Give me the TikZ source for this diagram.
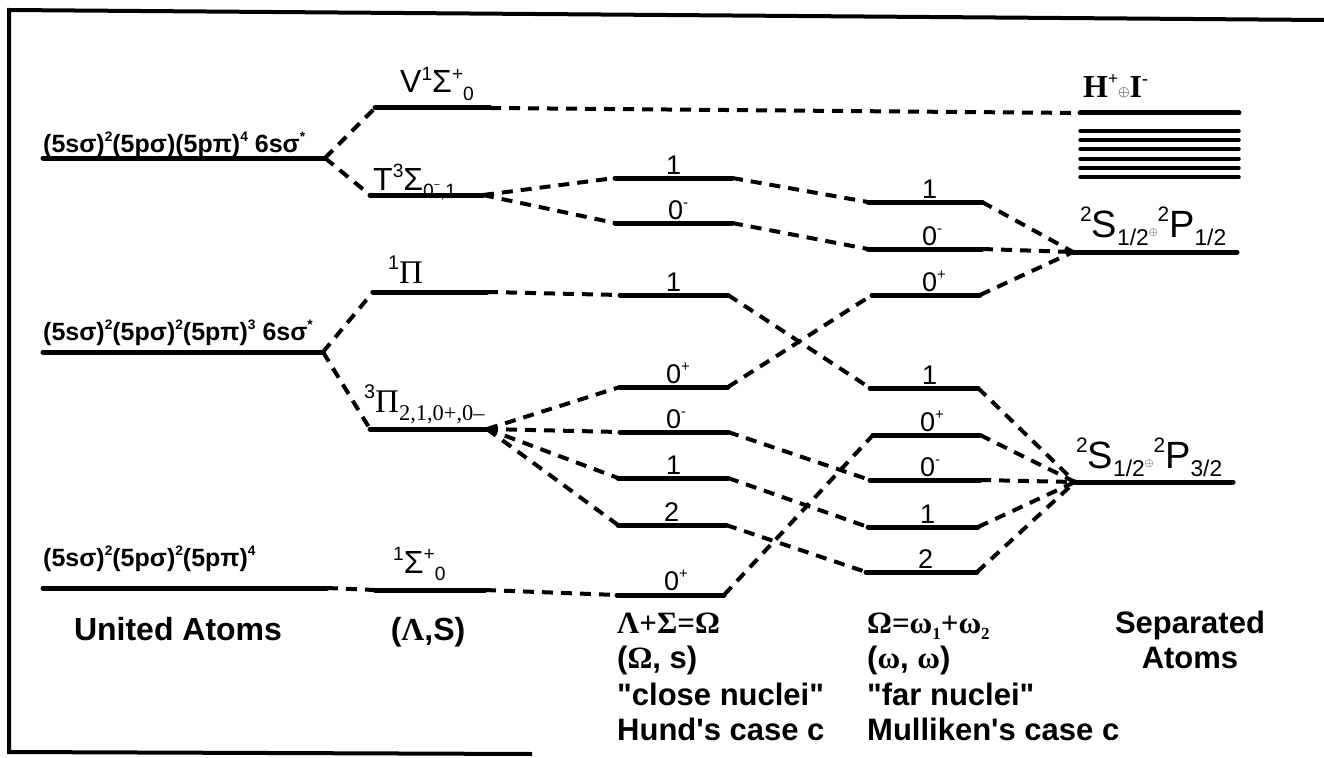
\documentclass[tikz,border=0pt]{standalone}
\usepackage{fontspec}
\setmainfont{Liberation Sans}[Ligatures=TeXOff]
\newfontfamily\serif{Liberation Serif}[Ligatures=TeXOff]
\newcommand\spx[1]{\raisebox{0.42em}{\scalebox{0.55}{#1}}}
\newcommand\sbx[1]{\raisebox{-0.2em}{\scalebox{0.55}{#1}}}
\newcommand\spy[1]{\raisebox{0.4em}{\scalebox{0.6}{#1}}}
\newcommand\sby[1]{\raisebox{-0.22em}{\scalebox{0.6}{#1}}}
\newcommand\opl[1]{\raisebox{0.05em}{\scalebox{#1}{$\oplus$}}}
\newcommand\lvl[4]{\coordinate (#1l) at (#2,#4);\coordinate (#1r) at (#3,#4);\draw[lev] (#1l) -- (#1r);}
\begin{document}
\begin{tikzpicture}[x=1pt,y=-1pt,
  lev/.style={line width=5pt,line cap=round},
  bar/.style={line width=3.5pt,line cap=round},
  con/.style={line width=4pt,dash pattern=on 11pt off 8pt},
  frame/.style={line width=4pt},
  txt/.style={inner sep=0pt,anchor=base west},
  conf/.style={txt,font=\fontsize{25}{30}\selectfont\bfseries},
  term/.style={txt,font=\fontsize{32}{32}\selectfont},
  num/.style={txt,font=\fontsize{27}{27}\selectfont},
  big/.style={inner sep=0pt,font=\fontsize{31}{36}\selectfont\bfseries}]
\useasboundingbox (0,0) rectangle (1324,757);
% frame
\coordinate (f1) at (1324,20);
\coordinate (f2) at (9,10);
\coordinate (f3) at (9,752);
\coordinate (f4) at (532,754);
\draw[frame] (f1) -- (f2) -- (f3) -- (f4);
% united atoms
\lvl{UAa}{43}{325}{158}
\lvl{UAb}{43}{323}{352}
\lvl{UAc}{43}{327}{588}
% column 2
\lvl{V}{375}{490}{108}
\lvl{T}{370}{483}{195}
\lvl{Pa}{373}{487}{292}
\lvl{Pb}{370}{487}{429}
\lvl{S}{375}{485}{590}
% column 3
\lvl{aa}{615}{732}{178}
\lvl{ab}{615}{732}{223}
\lvl{ba}{620}{728}{295}
\lvl{ca}{620}{728}{387}
\lvl{cb}{620}{728}{432}
\lvl{cc}{618}{728}{478}
\lvl{cd}{618}{726}{525}
\lvl{da}{617}{724}{595}
% column 4
\lvl{ma}{868}{982}{202}
\lvl{mb}{868}{982}{249}
\lvl{mc}{872}{980}{295}
\lvl{na}{870}{978}{388}
\lvl{nb}{873}{980}{435}
\lvl{nc}{870}{980}{480}
\lvl{nd}{868}{978}{527}
\lvl{ne}{866}{977}{572}
% separated atoms
\lvl{HI}{1080}{1239}{113}
\foreach \yy in {131,140,149,159,168,177}{\draw[bar] (1080,\yy) -- (1239,\yy);}
\lvl{Pp}{1073}{1237}{252}
\lvl{Pq}{1075}{1233}{482}
% connectors
\draw[con] (UAar) -- (Vl);
\draw[con] (UAar) -- (Tl);
\draw[con] (Vr) -- (HIl);
\draw[con] (Tr) -- (aal);
\draw[con] (Tr) -- (abl);
\draw[con] (aar) -- (mal);
\draw[con] (abr) -- (mbl);
\draw[con] (mar) -- (Ppl);
\draw[con] (mbr) -- (Ppl);
\draw[con] (mcr) -- (Ppl);
\draw[con] (UAbr) -- (Pal);
\draw[con] (UAbr) -- (Pbl);
\draw[con] (Par) -- (bal);
\draw[con] (bar) -- (nal);
\draw[con] (Pbr) -- (cal);
\draw[con] (Pbr) -- (cbl);
\draw[con] (Pbr) -- (ccl);
\draw[con] (Pbr) -- (cdl);
\draw[con] (car) -- (mcl);
\draw[con] (cbr) -- (ncl);
\draw[con] (ccr) -- (ndl);
\draw[con] (cdr) -- (nel);
\draw[con] (dar) -- (nbl);
\draw[con] (UAcr) -- (Sl);
\draw[con] (Sr) -- (dal);
\draw[con] (nar) -- (Pql);
\draw[con] (nbr) -- (Pql);
\draw[con] (ncr) -- (Pql);
\draw[con] (ndr) -- (Pql);
\draw[con] (ner) -- (Pql);
% configuration labels
\node[conf] (la) at (43,152) {(5sσ)\spx{2}(5pσ)(5pπ)\spx{4} 6sσ\spx{*}};
\node[conf] (lb) at (43,340) {(5sσ)\spx{2}(5pσ)\spx{2}(5pπ)\spx{3} 6sσ\spx{*}};
\node[conf] (lc) at (43,566) {(5sσ)\spx{2}(5pσ)\spx{2}(5pπ)\spx{4}};
% term labels
\node[term] (tv) at (400,93) {V\spy{1}Σ\spy{+}\sby{0}};
\node[term] (tt) at (373,190) {T\spy{3}Σ\sby{0\spx{−},1}};
\node[txt,font=\serif\fontsize{33}{33}\selectfont] (tp) at (388,283) {\spy{\rmfamily 1}Π};
\node[txt,font=\serif\fontsize{33}{33}\selectfont] (tq) at (364,412) {\spy{\rmfamily 3}Π\raisebox{-0.25em}{\scalebox{0.68}{2,1,0+,0–}}};
\node[term] (ts) at (393,573) {\spy{1}Σ\spy{+}\sby{0}};
% column 3 labels
\node[num] at (666,174) {1};
\node[num] at (668,219) {0\spx{-}};
\node[num] at (666,291) {1};
\node[num] at (666,383) {0\spx{+}};
\node[num] at (666,428) {0\spx{-}};
\node[num] at (666,474) {1};
\node[num] at (664,521) {2};
\node[num] at (664,590) {0\spx{+}};
% column 4 labels
\node[num] at (922,198) {1};
\node[num] at (922,245) {0\spx{-}};
\node[num] at (922,291) {0\spx{+}};
\node[num] at (922,384) {1};
\node[num] at (920,431) {0\spx{+}};
\node[num] at (920,476) {0\spx{-}};
\node[num] at (920,523) {1};
\node[num] at (918,568) {2};
% separated atom labels
\node[txt,font=\serif\bfseries\fontsize{32}{32}\selectfont] (th) at (1083,98) {H\spx{+}\opl{0.6}I\spx{-}};
\node[txt,font=\fontsize{38}{38}\selectfont] (tpp) at (1080,237) {\spx{2}S\sby{1/2}\opl{0.45}\spx{2}P\sby{1/2}};
\node[txt,font=\fontsize{38}{38}\selectfont] (tpq) at (1076,468) {\spx{2}S\sby{1/2}\opl{0.45}\spx{2}P\sby{3/2}};
% bottom captions
\node[big,anchor=base,font=\fontsize{32}{36}\selectfont\bfseries] (cu) at (178,640) {United Atoms};
\node[big,anchor=base,font=\fontsize{32}{36}\selectfont\bfseries] (cl) at (428,640) {({\serif Λ},S)};
\node[big,anchor=base west] (h1) at (617,633) {\serif Λ+Σ=Ω};
\node[big,anchor=base west] (h2) at (617,668) {({\serif Ω}, s)};
\node[big,anchor=base west] (h3) at (617,705) {"close nuclei"};
\node[big,anchor=base west] (h4) at (617,740) {Hund's case c};
\node[big,anchor=base west] (m1) at (867,633) {\serif Ω=ω\sbx{1}+ω\sbx{2}};
\node[big,anchor=base west] (m2) at (867,668) {({\serif ω}, {\serif ω})};
\node[big,anchor=base west] (m3) at (867,705) {"far nuclei"};
\node[big,anchor=base west] (m4) at (867,740) {Mulliken's case c};
\node[big,anchor=base] (s1) at (1190,633) {Separated};
\node[big,anchor=base] (s2) at (1190,668) {Atoms};
\end{tikzpicture}
\end{document}
